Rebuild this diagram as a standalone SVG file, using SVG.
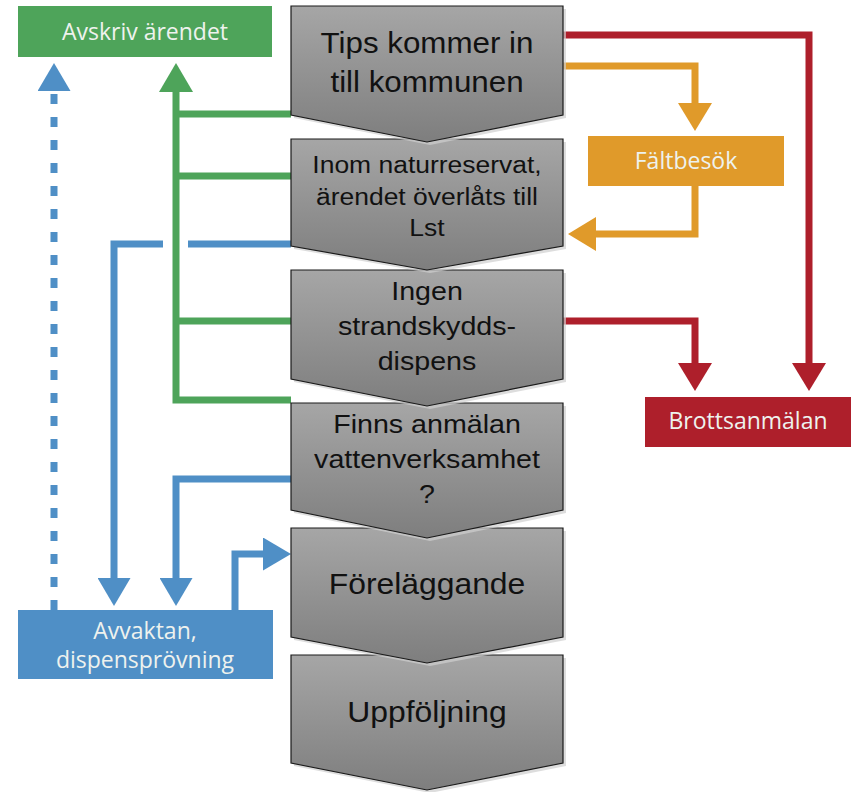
<svg xmlns="http://www.w3.org/2000/svg" width="854" height="792" viewBox="0 0 854 792">
<defs>
<linearGradient id="gr" x1="0" y1="0" x2="0" y2="1">
<stop offset="0" stop-color="#a6a6a6"/>
<stop offset="1" stop-color="#7e7e7e"/>
</linearGradient>
<marker id="ag" markerUnits="userSpaceOnUse" markerWidth="29" markerHeight="34" viewBox="0 0 29 34" refX="0" refY="17" orient="auto"><path d="M0,0 L29,17 L0,34 Z" fill="#4ea45a"/></marker>
<marker id="ab" markerUnits="userSpaceOnUse" markerWidth="28" markerHeight="33" viewBox="0 0 28 33" refX="0" refY="16.5" orient="auto"><path d="M0,0 L28,16.5 L0,33 Z" fill="#4f8fc6"/></marker>
<marker id="ar" markerUnits="userSpaceOnUse" markerWidth="28" markerHeight="34" viewBox="0 0 28 34" refX="0" refY="17" orient="auto"><path d="M0,0 L28,17 L0,34 Z" fill="#ae1f2b"/></marker>
<marker id="ao" markerUnits="userSpaceOnUse" markerWidth="28" markerHeight="34" viewBox="0 0 28 34" refX="0" refY="17" orient="auto"><path d="M0,0 L28,17 L0,34 Z" fill="#e09a2a"/></marker>
</defs>
<style>
.c{fill:url(#gr);stroke:#1a1a1a;stroke-width:1.2}
.sh{fill:#cfcfcf;opacity:.7}
.ct{font-family:"Liberation Sans",Arial,sans-serif;fill:#111;text-anchor:middle}
.bt{font-family:"Open Sans","Noto Sans",sans-serif;font-size:23px;font-weight:500;fill:#eef2ee;text-anchor:middle}
.l{fill:none;stroke-width:7;stroke-linejoin:miter}
.g{stroke:#4ea45a}
.b{stroke:#4f8fc6}
.r{stroke:#ae1f2b}
.o{stroke:#e09a2a}
</style>
<g id="connectors">
<path class="l g" d="M291,114 H176"/>
<path class="l g" d="M291,176 H176"/>
<path class="l g" d="M291,321 H176"/>
<path class="l g" d="M291,400 H176 V92" marker-end="url(#ag)"/>
<path class="l b" d="M54,610 V91" stroke-dasharray="10 13" marker-end="url(#ab)"/>
<path class="l b" d="M291,244 H188"/>
<path class="l b" d="M163,244 H114 V578" marker-end="url(#ab)"/>
<path class="l b" d="M291,479 H176 V578" marker-end="url(#ab)"/>
<path class="l b" d="M235,610 V554 H263" marker-end="url(#ab)"/>
<path class="l r" d="M563,35 H809 V363" marker-end="url(#ar)"/>
<path class="l r" d="M563,321 H695 V363" marker-end="url(#ar)"/>
<path class="l o" d="M563,66 H695 V103" marker-end="url(#ao)"/>
<path class="l o" d="M695,186 V234 H596" marker-end="url(#ao)"/>
</g>
<g id="uppfoljning">
<path class="sh" d="M294,658 H566 V766 L430,793 L294,766 Z"/>
<path class="c" d="M291,655 H563 V763 L427,790 L291,763 Z"/>
<g transform="translate(427 0) scale(1.08 1)"><text class="ct" x="0" y="722" font-size="29.5">Uppföljning</text></g>
</g>
<g id="forelaggande">
<path class="sh" d="M294,531 H566 V640 L430,666 L294,640 Z"/>
<path class="c" d="M291,528 H563 V637 L427,663 L291,637 Z"/>
<g transform="translate(427 0) scale(1.08 1)"><text class="ct" x="0" y="594" font-size="29.5">Föreläggande</text></g>
</g>
<g id="finns-anmalan">
<path class="sh" d="M294,406 H566 V513 L430,541 L294,513 Z"/>
<path class="c" d="M291,403 H563 V510 L427,538 L291,510 Z"/>
<g transform="translate(427 0) scale(1.08 1)"><text class="ct" font-size="26.5"><tspan x="0" y="433">Finns anmälan</tspan><tspan x="0" y="468">vattenverksamhet</tspan><tspan x="0" y="503">?</tspan></text></g>
</g>
<g id="ingen-dispens">
<path class="sh" d="M294,273 H566 V382 L430,409 L294,382 Z"/>
<path class="c" d="M291,270 H563 V379 L427,406 L291,379 Z"/>
<g transform="translate(427 0) scale(1.08 1)"><text class="ct" font-size="26.5"><tspan x="0" y="300">Ingen</tspan><tspan x="0" y="335">strandskydds-</tspan><tspan x="0" y="370">dispens</tspan></text></g>
</g>
<g id="naturreservat">
<path class="sh" d="M294,142 H566 V249 L430,273 L294,249 Z"/>
<path class="c" d="M291,139 H563 V246 L427,270 L291,246 Z"/>
<g transform="translate(427 0) scale(1.08 1)"><text class="ct" font-size="24.5"><tspan x="0" y="173">Inom naturreservat,</tspan><tspan x="0" y="205">ärendet överlåts till</tspan><tspan x="0" y="236">Lst</tspan></text></g>
</g>
<g id="tips">
<path class="sh" d="M294,9 H566 V118 L430,145 L294,118 Z"/>
<path class="c" d="M291,6 H563 V115 L427,142 L291,115 Z"/>
<g transform="translate(427 0) scale(1.08 1)"><text class="ct" font-size="29"><tspan x="0" y="53">Tips kommer in</tspan><tspan x="0" y="92">till kommunen</tspan></text></g>
</g>
<g id="avskriv">
<rect x="18" y="6" width="254" height="51" fill="#4ea45a"/>
<text class="bt" x="145" y="40">Avskriv ärendet</text>
</g>
<g id="faltbesok">
<rect x="588" y="136" width="196" height="50" fill="#e09a2a"/>
<text class="bt" x="686" y="169">Fältbesök</text>
</g>
<g id="brottsanmalan">
<rect x="645" y="397" width="206" height="50" fill="#ae1f2b"/>
<text class="bt" x="748" y="429">Brottsanmälan</text>
</g>
<g id="avvaktan">
<rect x="18" y="610" width="255" height="69" fill="#4f8fc6"/>
<text class="bt"><tspan x="145" y="639">Avvaktan,</tspan><tspan x="145" y="668">dispensprövning</tspan></text>
</g>
</svg>
